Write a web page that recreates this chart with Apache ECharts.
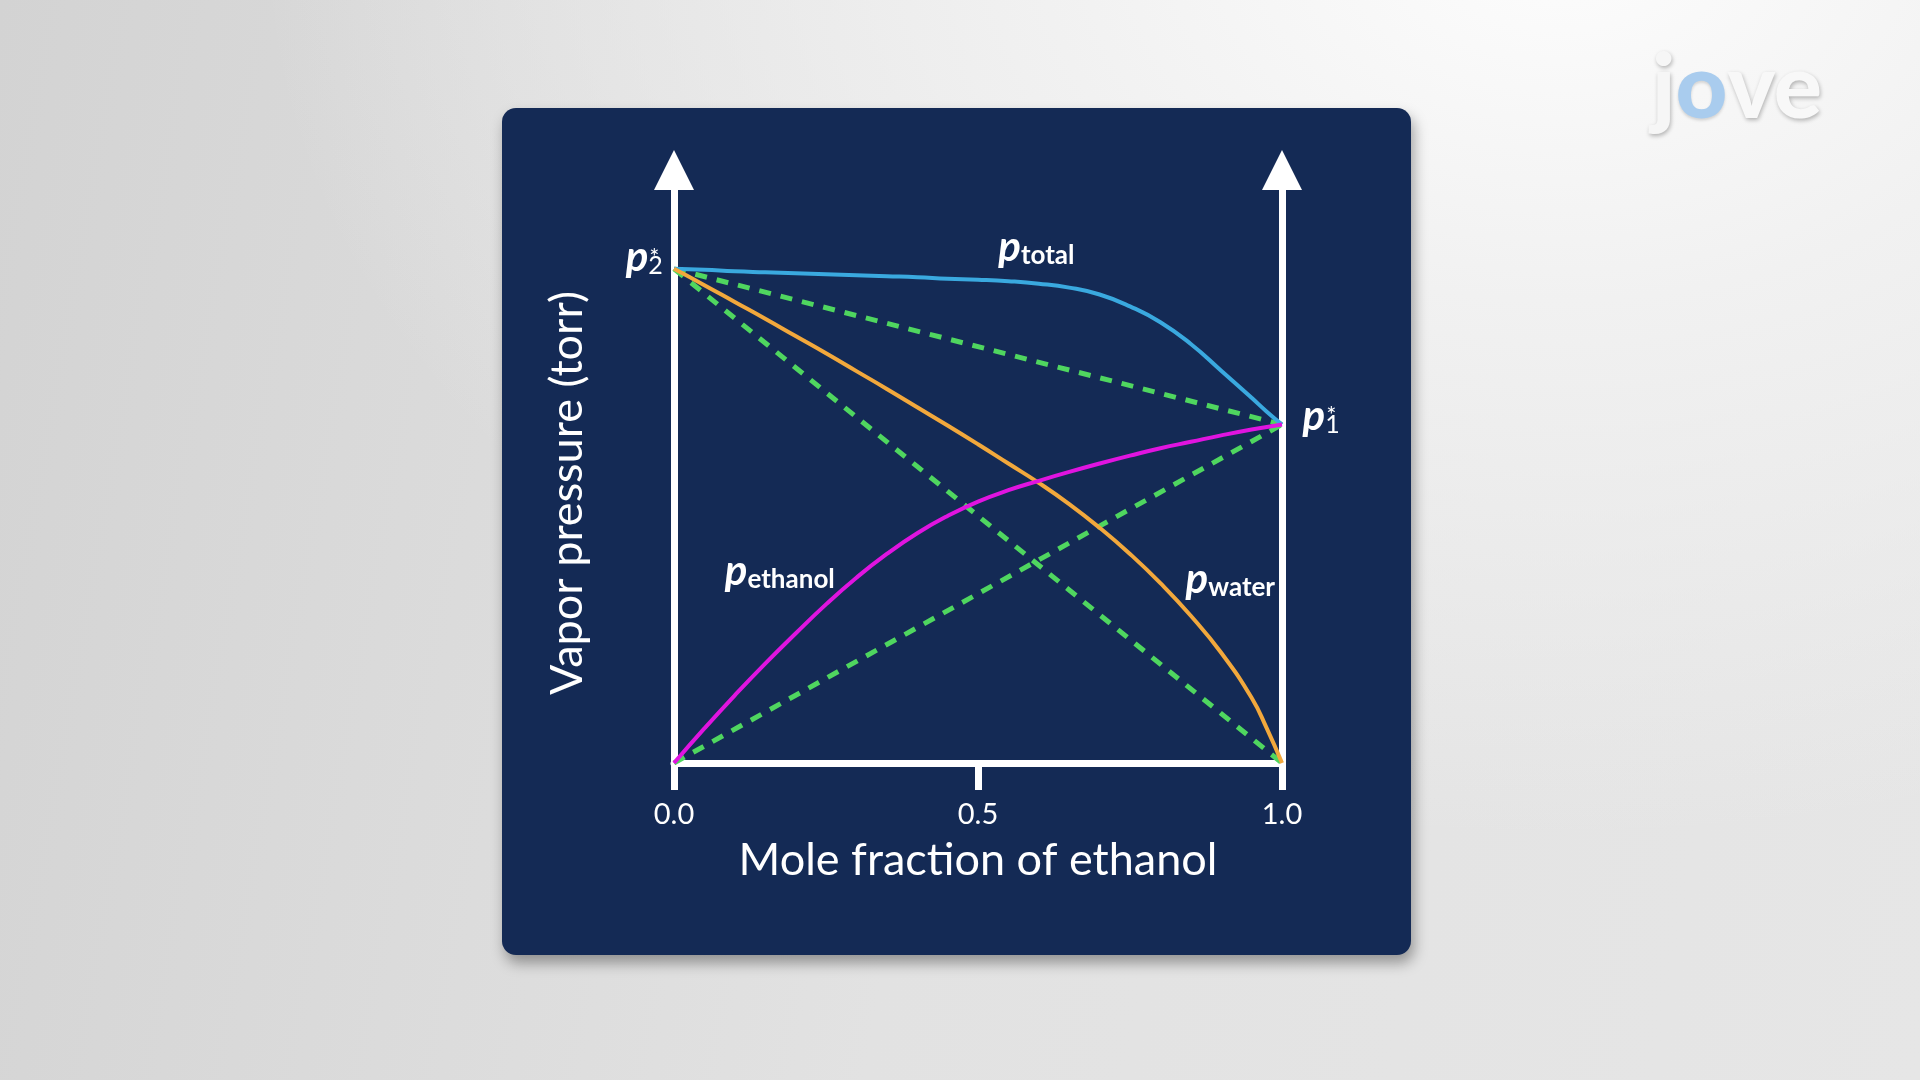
<!DOCTYPE html>
<html>
<head>
<meta charset="utf-8">
<script src="https://cdn.jsdelivr.net/npm/echarts@6/dist/echarts.min.js"></script>
<style>
  html, body { margin: 0; padding: 0; width: 1920px; height: 1080px; overflow: hidden; }
  body {
    background:
      radial-gradient(ellipse 1300px 900px at 1560px -60px, #fdfdfd 0%, #f1f1f1 40%, rgba(225,225,225,0) 100%),
      linear-gradient(100deg, #d3d3d3 0%, #e2e2e2 50%, #e6e6e6 100%);
  }
  #chart { width: 1920px; height: 1080px; }
</style>
</head>
<body>
<div id="chart"></div>
<script>
// mole fraction of ethanol (x axis)
const molFraction = [0, 0.05, 0.1, 0.15, 0.2, 0.25, 0.3, 0.35, 0.4, 0.45, 0.5, 0.55, 0.6, 0.65, 0.7, 0.75, 0.8, 0.85, 0.9, 0.95, 0.975, 1];
// vapour pressures (p2* = 100)
const pTotal   = [100, 99.8, 99.5, 99.3, 99.1, 98.9, 98.7, 98.5, 98.3, 98.0, 97.8, 97.5, 97.0, 96.2, 94.8, 92.4, 89.2, 84.8, 79.4, 73.9, 71.1, 68.5];
const pWater   = [100, 96.7, 93.3, 89.9, 86.4, 82.9, 79.3, 75.7, 72.0, 68.3, 64.5, 60.6, 56.7, 52.4, 47.6, 42.3, 36.4, 29.8, 22.3, 13.2, 7.0, 0];
const pEthanol = [0, 7.0, 13.7, 20.1, 26.2, 32.1, 37.5, 42.3, 46.5, 50.0, 52.9, 55.2, 57.1, 58.9, 60.6, 62.2, 63.7, 65.0, 66.3, 67.5, 68.0, 68.5];
// pure component pressures
const p2Star = 100;   // water
const p1Star = 68.5;  // ethanol
// ideal (Raoult) straight lines
const idealWater   = [[0, p2Star], [1, 0]];
const idealEthanol = [[0, 0], [1, p1Star]];
const idealTotal   = [[0, p2Star], [1, p1Star]];
const xTickLabels = ['0.0', '0.5', '1.0'];

const font = 'Lato';
const white = '#ffffff';
const green = '#4fd65f';

const rich = {
  p:  { fontFamily: font, fontStyle: 'italic', fontWeight: 'bold', fontSize: 42, lineHeight: 44, color: white, verticalAlign: 'bottom', align: 'left' },
  s:  { fontFamily: font, fontWeight: 'bold', fontSize: 26, lineHeight: 18, color: white, verticalAlign: 'bottom', align: 'left' },
  n:  { fontFamily: font, fontSize: 25, lineHeight: 12, width: 1, color: white, verticalAlign: 'bottom', align: 'left' },
  st: { fontFamily: font, fontSize: 24, lineHeight: 20, color: white, align: 'left' }
};

const pairs = ys => molFraction.map((x, i) => [x, ys[i]]);

function curve(name, ys, color, marks) {
  return {
    name: name,
    type: 'line',
    data: pairs(ys),
    smooth: true,
    symbol: 'none',
    z: 4,
    lineStyle: { color: color, width: 4 },
    markPoint: marks
  };
}

function labelMark(items) {
  return {
    symbol: 'circle',
    symbolSize: 1,
    itemStyle: { color: 'rgba(0,0,0,0)' },
    label: { show: true, rich: rich },
    data: items
  };
}

function dashed(name, data, marks) {
  return {
    name: name,
    type: 'line',
    data: data,
    symbol: 'none',
    z: 3,
    lineStyle: { color: green, width: 5, type: [12, 10] },
    markPoint: marks
  };
}

const yAxisBase = {
  type: 'value',
  min: 0,
  max: 120,
  axisLine: {
    show: true,
    onZero: false,
    symbol: ['none', 'triangle'],
    symbolSize: [40, 40],
    lineStyle: { color: white, width: 7 }
  },
  axisTick: { show: false },
  axisLabel: { show: false },
  splitLine: { show: false }
};

const chart = echarts.init(document.getElementById('chart'));
chart.setOption({
  animation: false,
  graphic: [
    {
      type: 'rect',
      z: -1,
      shape: { x: 502, y: 108, width: 909, height: 847, r: 14 },
      style: {
        fill: '#142a55',
        shadowBlur: 14,
        shadowOffsetX: 3,
        shadowOffsetY: 8,
        shadowColor: 'rgba(0,0,0,0.35)'
      }
    },
    {
      type: 'text',
      left: 1652,
      top: 44,
      style: {
        text: '{j|j}{o|o}{v|ve}',
        rich: {
          j: { fontFamily: font, fontWeight: 900, fontSize: 90, fill: '#f6f6f6', textShadowColor: 'rgba(0,0,0,0.28)', textShadowBlur: 4, textShadowOffsetX: 1, textShadowOffsetY: 2 },
          o: { fontFamily: font, fontWeight: 900, fontSize: 90, fill: '#a9ccee', textShadowColor: 'rgba(0,0,0,0.15)', textShadowBlur: 3, textShadowOffsetY: 2 },
          v: { fontFamily: font, fontWeight: 900, fontSize: 90, fill: '#f8f8f8', textShadowColor: 'rgba(0,0,0,0.28)', textShadowBlur: 4, textShadowOffsetX: 1, textShadowOffsetY: 2 }
        }
      }
    }
  ],
  grid: { left: 674, right: 638, top: 170, bottom: 317, outerBoundsMode: 'none' },
  xAxis: {
    type: 'value',
    min: 0,
    max: 1,
    interval: 0.5,
    name: 'Mole fraction of ethanol',
    nameLocation: 'middle',
    nameGap: 75,
    nameTextStyle: { fontFamily: font, fontSize: 45, color: white },
    axisLine: { show: true, onZero: false, lineStyle: { color: white, width: 7 } },
    axisTick: { show: true, length: 27, lineStyle: { color: white, width: 7 } },
    axisLabel: {
      fontFamily: font, fontSize: 29, color: white, margin: 37,
      formatter: v => xTickLabels[Math.round(v * 2)]
    },
    splitLine: { show: false }
  },
  yAxis: [
    Object.assign({}, yAxisBase, {
      position: 'left',
      name: 'Vapor pressure (torr)',
      nameLocation: 'middle',
      nameGap: 84,
      nameTextStyle: { fontFamily: font, fontSize: 45, color: white, padding: [0, 53, 0, 0] }
    }),
    Object.assign({}, yAxisBase, { position: 'right' })
  ],
  series: [
    dashed('ideal water', idealWater),
    dashed('ideal ethanol', idealEthanol),
    dashed('ideal total', idealTotal, labelMark([
      { coord: [0, p2Star], label: { position: 'left', distance: 14, offset: [0, -12], formatter: '{p|p}{n|2}{st|*}' } },
      { coord: [1, p1Star], label: { position: 'right', distance: 20, offset: [0, -9], formatter: '{p|p}{n|1}{st|*}' } }
    ])),
    curve('p total', pTotal, '#3aa9df', labelMark([
      { coord: [0.596, 104.5], label: { formatter: '{p|p}{s|total}' } }
    ])),
    curve('p water', pWater, '#f2a83c', labelMark([
      { coord: [0.915, 37.3], label: { formatter: '{p|p}{s|water}' } }
    ])),
    curve('p ethanol', pEthanol, '#e014e0', labelMark([
      { coord: [0.174, 38.9], label: { formatter: '{p|p}{s|ethanol}' } }
    ]))
  ]
});
</script>
</body>
</html>
